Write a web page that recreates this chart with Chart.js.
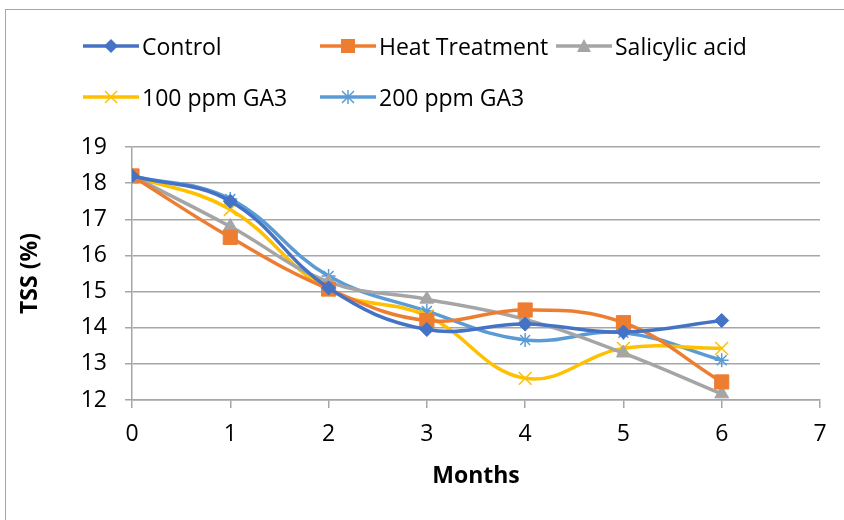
<!DOCTYPE html>
<html>
<head>
<meta charset="utf-8">
<script src="https://cdn.jsdelivr.net/npm/chart.js@4.4.0/dist/chart.umd.min.js"></script>
<style>
  body { margin: 0; background: #fff; font-family: "Open Sans", sans-serif; }
  #wrap { position: relative; width: 844px; height: 520px; overflow: hidden; }
  #frame { position: absolute; left: 5px; top: 9px; width: 900px; height: 600px; border: 1.5px solid #a6a6a6; }
  #legend { position: absolute; left: 0; top: 0; }
  .item { position: absolute; display: flex; align-items: center; font-size: 23px; color: #000; white-space: nowrap; }
  .item svg { margin-right: 3px; }
</style>
</head>
<body>
<div id="wrap">
  <div id="frame"></div>
  <canvas id="chartTSS" width="844" height="520" style="position:absolute;left:0;top:0"></canvas>
  <div id="legend"></div>
</div>
<script>
var months = [0, 1, 2, 3, 4, 5, 6];
var seriesNames = ["Control", "Heat Treatment", "Salicylic acid", "100 ppm GA3", "200 ppm GA3"];
var control   = [18.2, 17.5, 15.1, 13.95, 14.1, 13.88, 14.2];
var heat      = [18.2, 16.5, 15.07, 14.2, 14.49, 14.14, 12.5];
var salicylic = [18.2, 16.8, 15.27, 14.79, 14.23, 13.3, 12.17];
var ga100     = [18.2, 17.27, 15.05, 14.33, 12.6, 13.43, 13.43];
var ga200     = [18.2, 17.56, 15.43, 14.46, 13.66, 13.86, 13.1];
var yTicks = [12, 13, 14, 15, 16, 17, 18, 19];
var xTicks = [0, 1, 2, 3, 4, 5, 6, 7];

var colors = ['#4472C4', '#ED7D31', '#A5A5A5', '#FFC000', '#5B9BD5'];
var styles = ['rectRot', 'rect', 'triangle', 'crossRot', 'star'];
var radii = [7, 10, 8, 9, 7];
var values = [control, heat, salicylic, ga100, ga200];

function toPoints(arr) {
	var pts = [];
	for (var i in months) {
		pts.push({x: months[i], y: arr[i]});
	}
	return pts;
}

var datasets = [];
for (var i = 0; i < seriesNames.length; i++) {
	datasets.push({
		label: seriesNames[i],
		data: toPoints(values[i]),
		borderColor: colors[i],
		backgroundColor: colors[i],
		borderWidth: 3.5,
		pointStyle: styles[i],
		pointRadius: radii[i],
		pointBorderWidth: (styles[i] == 'crossRot' || styles[i] == 'star') ? 1.5 : 1,
		tension: 0.4
	});
}

// legend: html, line + marker icon
var legendPos = [[83, 47], [320, 47], [556, 47], [83, 98], [320, 98]];
var legend = document.getElementById('legend');
for (var i = 0; i < seriesNames.length; i++) {
	var c = colors[i], m = '';
	if (styles[i] == 'rectRot') m = '<polygon points="28,2 35,9 28,16 21,9" fill="' + c + '"/>';
	if (styles[i] == 'rect') m = '<rect x="21" y="2" width="14" height="14" fill="' + c + '"/>';
	if (styles[i] == 'triangle') m = '<polygon points="28,2 35,15 21,15" fill="' + c + '"/>';
	if (styles[i] == 'crossRot') m = '<path d="M22,3 L34,15 M34,3 L22,15" stroke="' + c + '" stroke-width="1.5"/>';
	if (styles[i] == 'star') m = '<path d="M22,3 L34,15 M34,3 L22,15 M28,2 L28,16" stroke="' + c + '" stroke-width="1.5"/>';
	var div = document.createElement('div');
	div.className = 'item';
	div.style.left = legendPos[i][0] + 'px';
	div.style.top = (legendPos[i][1] - 17) + 'px';
	div.innerHTML = '<svg width="56" height="18"><line x1="0" y1="9" x2="56" y2="9" stroke="' + c + '" stroke-width="3.5"/>' + m + '</svg><span>' + seriesNames[i] + '</span>';
	legend.appendChild(div);
}

var ctx = document.getElementById('chartTSS').getContext('2d');
var tssChart = new Chart(ctx, {
	type: 'line',
	data: { datasets: datasets },
	options: {
		responsive: false,
		animation: false,
		devicePixelRatio: 1,
		layout: { padding: { top: 147, right: 24, left: 0, bottom: 0 } },
		plugins: { legend: { display: false }, tooltip: { enabled: false } },
		scales: {
			x: {
				type: 'linear',
				min: 0, max: 7,
				afterBuildTicks: function(scale) { scale.ticks = xTicks.map(function(v) { return {value: v}; }); },
				afterFit: function(scale) { scale.height = 120; },
				grid: { drawOnChartArea: false, drawTicks: true, tickLength: 8, color: '#a6a6a6', lineWidth: 1.5 },
				border: { color: '#a6a6a6', width: 1.5 },
				ticks: { color: '#000', font: { family: 'Open Sans', size: 23 }, padding: 13, maxRotation: 0 },
				title: { display: true, text: 'Months', color: '#000', font: { family: 'Open Sans', size: 23, weight: 'bold' }, padding: { top: 0, bottom: 30 } }
			},
			y: {
				min: 12, max: 19,
				afterBuildTicks: function(scale) { scale.ticks = yTicks.map(function(v) { return {value: v}; }); },
				afterFit: function(scale) { scale.width = 132; },
				grid: { drawTicks: true, tickLength: 7, color: '#a6a6a6', lineWidth: 1.5 },
				border: { color: '#a6a6a6', width: 1.5 },
				ticks: { color: '#000', font: { family: 'Open Sans', size: 23 }, padding: 18 },
				title: { display: true, text: 'TSS (%)', color: '#000', font: { family: 'Open Sans', size: 23, weight: 'bold' }, padding: { top: 17, bottom: 0 } }
			}
		}
	}
});
</script>
</body>
</html>
